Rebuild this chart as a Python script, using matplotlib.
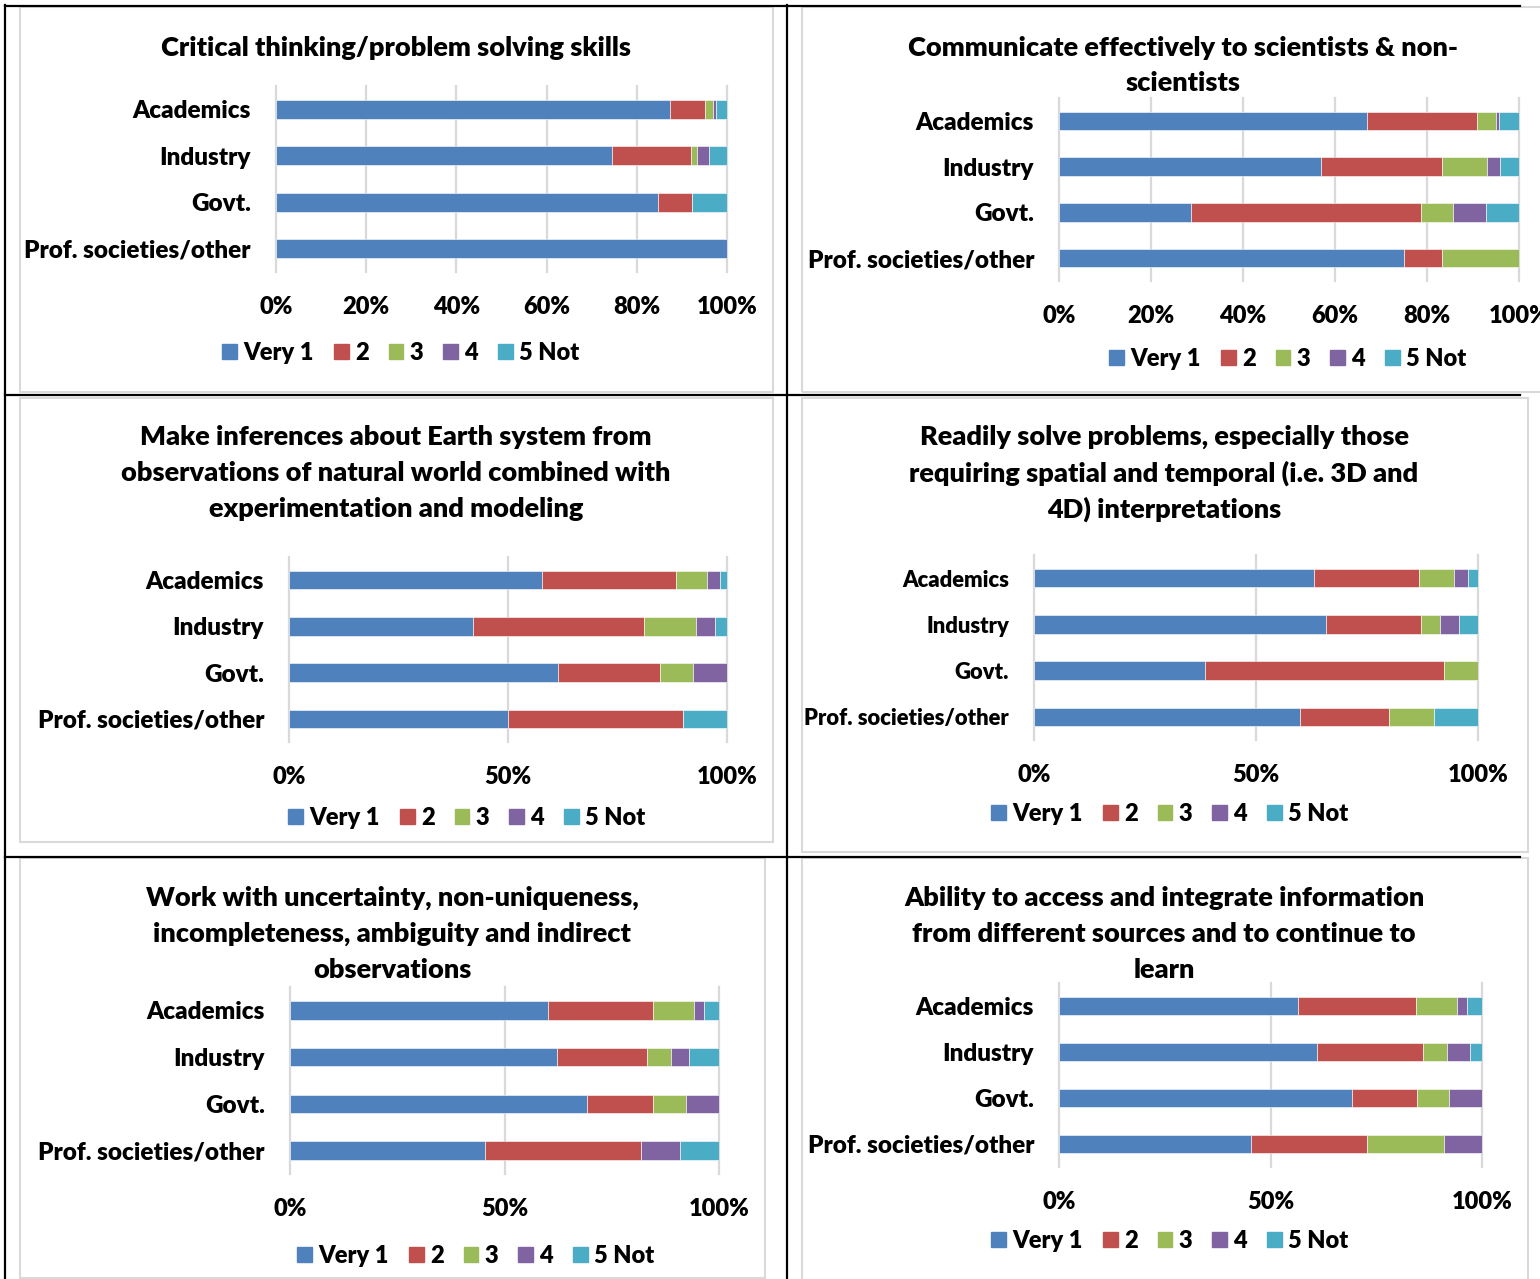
import matplotlib.pyplot as plt
from matplotlib.patches import Patch, Rectangle
from matplotlib.lines import Line2D
import numpy as np

plt.rcParams['font.family'] = ['Lato', 'DejaVu Sans']
WEIGHT = 'heavy'
plt.rcParams['font.weight'] = WEIGHT

W, H = 1540, 1279

CATEGORIES = ["Academics", "Industry", "Govt.", "Prof. societies/other"]
SERIES = ["Very 1", "2", "3", "4", "5 Not"]
COLORS = ["#4F81BD", "#C0504D", "#9BBB59", "#8064A2", "#4BACC6"]

# percent of responses per category, columns follow SERIES
critical_thinking = [[87.3, 7.9, 1.6, 0.8, 2.4],
                     [74.6, 17.4, 1.3, 2.8, 3.9],
                     [84.6, 7.7, 0, 0, 7.7],
                     [100, 0, 0, 0, 0]]
communicate = [[66.9, 24.0, 4.0, 0.8, 4.3],
               [56.9, 26.4, 9.7, 2.8, 4.2],
               [28.6, 50.0, 7.1, 7.1, 7.2],
               [75.0, 8.3, 16.7, 0, 0]]
inferences = [[57.7, 30.6, 7.1, 2.9, 1.7],
              [42.0, 39.1, 11.8, 4.3, 2.8],
              [61.5, 23.1, 7.7, 7.7, 0],
              [50.0, 40.0, 0, 0, 10.0]]
solve_problems = [[63.1, 23.5, 7.9, 3.2, 2.3],
                  [65.7, 21.4, 4.3, 4.3, 4.3],
                  [38.5, 53.8, 7.7, 0, 0],
                  [60.0, 20.0, 10.0, 0, 10.0]]
uncertainty = [[60.2, 24.5, 9.5, 2.2, 3.6],
               [62.3, 20.9, 5.7, 4.1, 7.0],
               [69.2, 15.4, 7.7, 7.7, 0],
               [45.5, 36.4, 0, 9.1, 9.0]]
integrate_info = [[56.6, 27.8, 9.8, 2.3, 3.5],
                  [61.0, 25.0, 5.7, 5.5, 2.8],
                  [69.2, 15.4, 7.7, 7.7, 0],
                  [45.5, 27.3, 18.2, 9.0, 0]]

TICKS_20 = [0, 20, 40, 60, 80, 100]
TICKS_50 = [0, 50, 100]

# layout in pixels: frame box, axes box (x0, x1, ytop, ybottom), title lines + y, legend centre
panels = [
    dict(data=critical_thinking, ticks=TICKS_20,
         title=["Critical thinking/problem solving skills"], title_x=396, title_y=[46],
         frame=(20, 7, 773, 392), ax=(276, 727, 86, 272), leg=(401, 352), lab=17.5),
    dict(data=communicate, ticks=TICKS_20,
         title=["Communicate effectively to scientists & non-", "scientists"], title_x=1183,
         title_y=[46, 81], frame=(802, 7, 1560, 392), ax=(1059, 1519, 98, 281),
         leg=(1288, 358), lab=17.5),
    dict(data=inferences, ticks=TICKS_50,
         title=["Make inferences about Earth system from",
                "observations of natural world combined with",
                "experimentation and modeling"], title_x=396, title_y=[435, 471, 507],
         frame=(20, 398, 773, 842), ax=(289, 727, 557, 742), leg=(467, 817), lab=17.5),
    dict(data=solve_problems, ticks=TICKS_50,
         title=["Readily solve problems, especially those",
                "requiring spatial and temporal (i.e. 3D and",
                "4D) interpretations"], title_x=1164, title_y=[435, 471, 507],
         frame=(802, 398, 1528, 852), ax=(1034, 1478, 555, 740), leg=(1170, 813), lab=15.8),
    dict(data=uncertainty, ticks=TICKS_50,
         title=["Work with uncertainty, non-uniqueness,",
                "incompleteness, ambiguity and indirect",
                "observations"], title_x=392, title_y=[896, 932, 968],
         frame=(20, 858, 765, 1278), ax=(290, 719, 987, 1174), leg=(476, 1255), lab=17.5),
    dict(data=integrate_info, ticks=TICKS_50,
         title=["Ability to access and integrate information",
                "from different sources and to continue to",
                "learn"], title_x=1164, title_y=[896, 932, 968],
         frame=(802, 858, 1528, 1290), ax=(1059, 1482, 983, 1167), leg=(1170, 1240), lab=17.5),
]


def fx(px):
    return px / W


def fy(py):
    return 1 - py / H


fig = plt.figure(figsize=(W / 100, H / 100), dpi=100)

# table lines
for (x0, y0, x1, y1) in [(5, 5.5, 1520, 5.5), (5, 395, 1520, 395), (5, 857, 1520, 857),
                         (5, 5, 5, 1279), (787, 5, 787, 1279)]:
    fig.add_artist(Line2D([fx(x0), fx(x1)], [fy(y0), fy(y1)], color="black", lw=1.6))

handles = [Patch(facecolor=c, edgecolor=c) for c in COLORS]

for p in panels:
    x0, y0, x1, y1 = p["frame"]
    fig.add_artist(Rectangle((fx(x0), fy(y1)), fx(x1 - x0), (y1 - y0) / H,
                             fill=False, edgecolor="#D9D9D9", lw=1.5))
    for t, ty in zip(p["title"], p["title_y"]):
        fig.text(fx(p["title_x"]), fy(ty + 2), t, ha="center", va="center", fontsize=19.5,
                 fontweight=WEIGHT)

    ax0, ax1, at, ab = p["ax"]
    ax = fig.add_axes([fx(ax0), fy(ab), fx(ax1 - ax0), (ab - at) / H])
    vals = np.array(p["data"])
    y = np.arange(len(CATEGORIES))
    left = np.zeros(len(CATEGORIES))
    for i, name in enumerate(SERIES):
        ax.barh(y, vals[:, i], left=left, height=0.4, color=COLORS[i],
                edgecolor="#FFFFFF", linewidth=0.4, zorder=3)
        left += vals[:, i]
    for t in p["ticks"]:
        ax.axvline(t, color="#D9D9D9", lw=1.6, zorder=0, clip_on=False)
    ax.set_xlim(0, 100)
    ax.set_ylim(len(CATEGORIES) - 0.5, -0.5)
    ax.set_yticks(y)
    ax.set_yticklabels(CATEGORIES, fontsize=p["lab"], fontweight=WEIGHT)
    ax.set_xticks(p["ticks"])
    ax.set_xticklabels([f"{t}%" for t in p["ticks"]], fontsize=17, fontweight=WEIGHT)
    ax.tick_params(axis="y", length=0, pad=18)
    ax.tick_params(axis="x", length=0, pad=17.5)
    for s in ax.spines.values():
        s.set_visible(False)

    lx, ly = p["leg"]
    fig.legend(handles, SERIES, loc="center", bbox_to_anchor=(fx(lx), fy(ly + 1)), ncol=5,
               frameon=False, handlelength=0.62, handleheight=0.62,
               handletextpad=0.27, columnspacing=0.85, borderpad=0,
               prop=dict(size=17, weight=WEIGHT))

fig.savefig("out.png", dpi=100)
